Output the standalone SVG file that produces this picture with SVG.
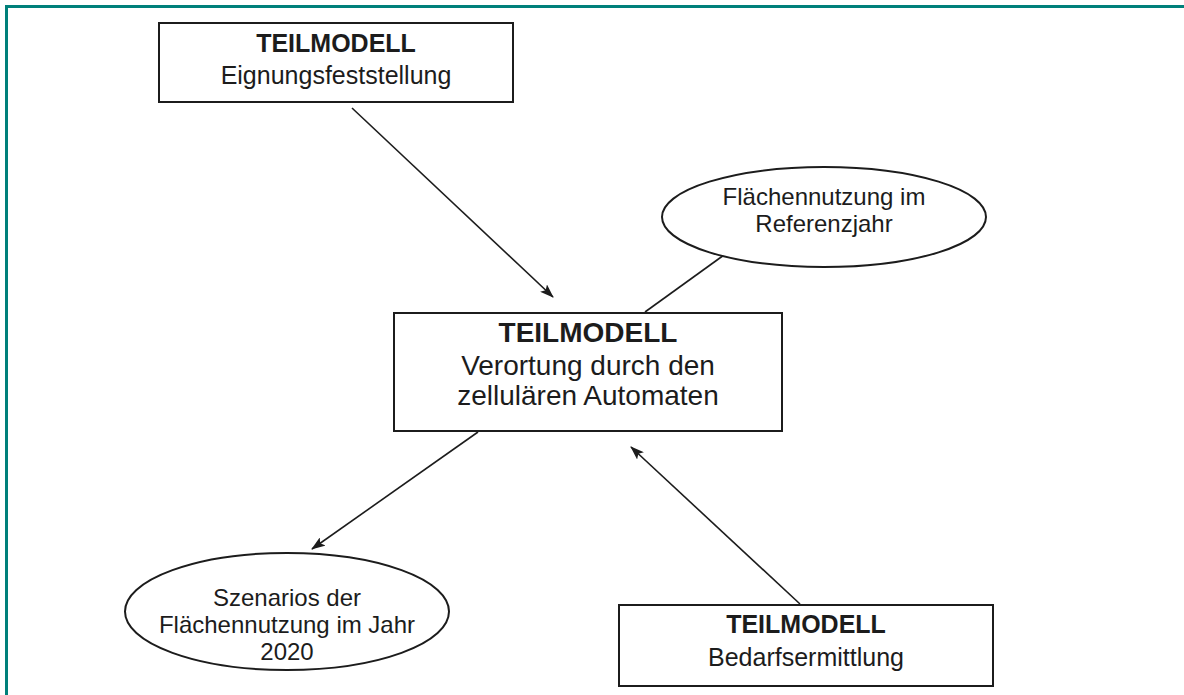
<svg xmlns="http://www.w3.org/2000/svg" width="1184" height="695" viewBox="0 0 1184 695">
  <style>
    .box { fill: #ffffff; stroke: #1c1c1c; stroke-width: 2; }
    .oval { fill: #ffffff; stroke: #1c1c1c; stroke-width: 2; }
    .t { font-family: "Liberation Sans", Arial, sans-serif; fill: #1c1c1c; text-anchor: middle; }
    .b { font-weight: bold; }
    .edge { stroke: #1c1c1c; stroke-width: 1.6; fill: none; }
  </style>
  <defs>
    <marker id="arrow" viewBox="0 0 14 10" refX="13" refY="5" markerWidth="14" markerHeight="10" markerUnits="userSpaceOnUse" orient="auto">
      <path d="M0,0 L14,5 L0,10 L3,5 Z" fill="#1c1c1c"/>
    </marker>
  </defs>

  <rect width="1184" height="695" fill="#ffffff"/>
  <!-- frame -->
  <path d="M6.5,695 V6.5 H1184" fill="none" stroke="#00807a" stroke-width="3"/>

  <g id="connectors">
    <line class="edge" x1="352" y1="108" x2="553" y2="297" marker-end="url(#arrow)"/>
    <line class="edge" x1="724" y1="255" x2="645" y2="312"/>
    <line class="edge" x1="478" y1="432" x2="312" y2="549" marker-end="url(#arrow)"/>
    <line class="edge" x1="800" y1="604" x2="631" y2="447" marker-end="url(#arrow)"/>
  </g>

  <g id="eignung">
    <rect class="box" x="159" y="23" width="354" height="79"/>
    <text class="t b" x="336" y="52" font-size="25">TEILMODELL</text>
    <text class="t" x="336" y="84" font-size="25">Eignungsfeststellung</text>
  </g>

  <g id="referenzjahr">
    <ellipse class="oval" cx="824" cy="217" rx="162" ry="50"/>
    <text class="t" x="824" y="205" font-size="24">Flächennutzung im</text>
    <text class="t" x="824" y="232" font-size="24">Referenzjahr</text>
  </g>

  <g id="verortung">
    <rect class="box" x="394" y="313" width="388" height="118"/>
    <text class="t b" x="588" y="342" font-size="28">TEILMODELL</text>
    <text class="t" x="588" y="375" font-size="28">Verortung durch den</text>
    <text class="t" x="588" y="405" font-size="28">zellulären Automaten</text>
  </g>

  <g id="szenarios">
    <ellipse class="oval" cx="287" cy="611.5" rx="162" ry="58.5"/>
    <text class="t" x="287" y="606" font-size="24">Szenarios der</text>
    <text class="t" x="287" y="633" font-size="24">Flächennutzung im Jahr</text>
    <text class="t" x="287" y="660" font-size="24">2020</text>
  </g>

  <g id="bedarf">
    <rect class="box" x="619" y="605" width="374" height="81"/>
    <text class="t b" x="806" y="633" font-size="25">TEILMODELL</text>
    <text class="t" x="806" y="666" font-size="25">Bedarfsermittlung</text>
  </g>
</svg>
